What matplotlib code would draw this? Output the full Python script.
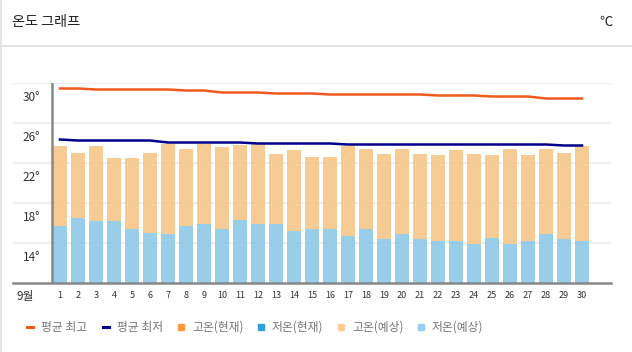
import matplotlib
matplotlib.use("Agg")
import matplotlib.pyplot as plt
import matplotlib.transforms as mtransforms
from matplotlib.patches import Rectangle
from matplotlib.lines import Line2D

plt.rcParams['font.family'] = ['Noto Sans CJK KR', 'DejaVu Sans']

days = list(range(1, 31))
avg_high = [29.4, 29.4, 29.3, 29.3, 29.3, 29.3, 29.3, 29.2, 29.2, 29.0,
            29.0, 29.0, 28.9, 28.9, 28.9, 28.8, 28.8, 28.8, 28.8, 28.8,
            28.8, 28.7, 28.7, 28.7, 28.6, 28.6, 28.6, 28.4, 28.4, 28.4]
avg_low = [24.3, 24.2, 24.2, 24.2, 24.2, 24.2, 24.0, 24.0, 24.0, 24.0,
           24.0, 23.9, 23.9, 23.9, 23.9, 23.9, 23.8, 23.8, 23.8, 23.8,
           23.8, 23.8, 23.8, 23.8, 23.8, 23.8, 23.8, 23.8, 23.7, 23.7]
fc_high = [23.6, 23.0, 23.7, 22.5, 22.5, 23.0, 23.8, 23.4, 23.9, 23.6,
           23.8, 23.8, 22.8, 23.3, 22.6, 22.6, 23.7, 23.3, 22.8, 23.3,
           22.8, 22.8, 23.3, 22.8, 22.8, 23.3, 22.8, 23.4, 23.0, 23.6]
fc_low = [15.7, 16.5, 16.2, 16.2, 15.4, 15.0, 14.9, 15.7, 15.9, 15.4,
          16.3, 15.9, 15.9, 15.2, 15.4, 15.4, 14.7, 15.4, 14.4, 14.9,
          14.4, 14.2, 14.2, 13.9, 14.5, 13.9, 14.2, 14.9, 14.4, 14.2]
yticks = [14, 18, 22, 26, 30]
ytick_labels = ['14°', '18°', '22°', '26°', '30°']
legend_labels = ['평균 최고', '평균 최저', '고온(현재)', '저온(현재)', '고온(예상)', '저온(예상)']
legend_colors = ['#f05a1e', '#00008b', '#ff9a3c', '#2e9fd8', '#ffcc99', '#99ccee']

W, H = 632, 352
fig = plt.figure(figsize=(W / 100, H / 100), dpi=100)
fig.patch.set_facecolor('white')

# frame elements
fig.add_artist(Line2D([0, 1], [1 - 46 / H, 1 - 46 / H], color='#dddddd', lw=1.2))
fig.add_artist(Line2D([0.8 / W, 0.8 / W], [0, 1], color='#e0e0e0', lw=1.2))
fig.text(12 / W, 1 - 22 / H, '온도 그래프', fontsize=10.2, color='#222222', va='center', ha='left')
fig.text(613 / W, 1 - 22 / H, '℃', fontsize=9.5, color='#222222', va='center', ha='right')

ax = fig.add_axes([13 / W, 69.5 / H, (611 - 13) / W, 200 / H])
ax.set_xlim(-1.61, 31.61)
ax.set_ylim(10, 30)

for v in yticks:
    ax.axhline(v, color='#efefef', lw=1.6, zorder=0)

low_h = [l - 10 for l in fc_low]
high_h = [h - l for h, l in zip(fc_high, fc_low)]
ax.bar(days, high_h, bottom=fc_low, width=0.78, color='#f6c382', alpha=0.85, zorder=2)
ax.bar(days, low_h, bottom=10, width=0.78, color='#8ac8e8', alpha=0.88, zorder=2)

ax.plot(days, avg_high, color='#f05a1e', lw=1.8, zorder=3)
ax.plot(days, avg_low, color='#00008b', lw=1.8, zorder=3)

ax.axvline(0.555, color='#888888', lw=1.8, zorder=4)
for s in ['top', 'right', 'left']:
    ax.spines[s].set_visible(False)
ax.spines['bottom'].set_color('#888888')
ax.spines['bottom'].set_linewidth(1.8)

ax.set_yticks([])
ax.set_xticks(days)
ax.set_xticklabels([str(d) for d in days], fontsize=6.5, color='#333333')
ax.tick_params(axis='x', length=0, pad=6)

off = mtransforms.offset_copy(ax.get_yaxis_transform(), fig=fig, x=0, y=-15, units='dots')
for v, lab in zip(yticks, ytick_labels):
    ax.text((40 - 13) / 598, v, lab, transform=off, ha='right', va='center',
            fontsize=8.5, color='#333333')
ax.text((25 - 13) / 598, 10, '9월', transform=mtransforms.offset_copy(
    ax.get_yaxis_transform(), fig=fig, x=0, y=-14, units='dots'),
    ha='center', va='center', fontsize=8.5, color='#333333')

# legend
ly = 1 - 327 / H
xs = [30, 106, 181, 261, 341, 421]
for i, (lab, col) in enumerate(zip(legend_labels, legend_colors)):
    x0 = xs[i]
    if i < 2:
        fig.add_artist(Line2D([(x0 - 3) / W, (x0 + 3) / W], [ly, ly], color=col, lw=2.2))
    else:
        fig.add_artist(Rectangle(((x0 - 3) / W, ly - 3 / H), 6 / W, 6 / H,
                                 transform=fig.transFigure, color=col))
    fig.text((x0 + 11) / W, ly, lab, fontsize=8.5, color='#777777', va='center', ha='left')

fig.savefig('out.png', dpi=100)
